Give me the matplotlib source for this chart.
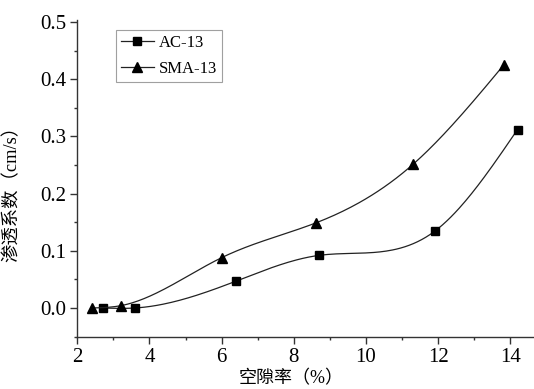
import numpy as np
import matplotlib
matplotlib.use("Agg")
import matplotlib.pyplot as plt
from matplotlib.ticker import MultipleLocator

plt.rcParams['font.family'] = ['Liberation Serif', 'Noto Sans CJK SC']
plt.rcParams['axes.unicode_minus'] = False

# values
ac_x = [2.7, 3.6, 6.4, 8.7, 11.9, 14.2]
ac_y = [0.0, 0.0, 0.047, 0.092, 0.134, 0.312]
sma_x = [2.42, 3.2, 6.0, 8.62, 11.3, 13.82]
sma_y = [0.0, 0.004, 0.088, 0.149, 0.251, 0.425]
labels = ["AC-13", "SMA-13"]


def natural_spline(x, y, n=200):
    x = np.asarray(x, float)
    y = np.asarray(y, float)
    k = len(x)
    h = np.diff(x)
    A = np.zeros((k, k))
    b = np.zeros(k)
    A[0, 0] = A[-1, -1] = 1.0
    for i in range(1, k - 1):
        A[i, i - 1] = h[i - 1]
        A[i, i] = 2 * (h[i - 1] + h[i])
        A[i, i + 1] = h[i]
        b[i] = 6 * ((y[i + 1] - y[i]) / h[i] - (y[i] - y[i - 1]) / h[i - 1])
    m = np.linalg.solve(A, b)
    xs = np.linspace(x[0], x[-1], n)
    idx = np.clip(np.searchsorted(x, xs) - 1, 0, k - 2)
    x0, x1 = x[idx], x[idx + 1]
    hh = x1 - x0
    t0, t1 = x1 - xs, xs - x0
    ys = (m[idx] * t0 ** 3 + m[idx + 1] * t1 ** 3) / (6 * hh) \
        + (y[idx] / hh - m[idx] * hh / 6) * t0 \
        + (y[idx + 1] / hh - m[idx + 1] * hh / 6) * t1
    return xs, ys


fig = plt.figure(figsize=(5.34, 3.89), dpi=100)
ax = fig.add_axes([0.1448, 0.1337, 0.8552, 0.8149])

for xv, yv, mk, ms, lab in [(ac_x, ac_y, 's', 5.5, labels[0]),
                            (sma_x, sma_y, '^', 6.5, labels[1])]:
    xs, ys = natural_spline(xv, yv)
    ax.plot(xs, ys, color='#222222', lw=0.9)
    ax.plot(xv, yv, ls='none', marker=mk, ms=ms, color='black')
    ax.plot([], [], color='#222222', lw=0.9, marker=mk, ms=ms,
            markerfacecolor='black', markeredgecolor='black', label=lab)

ax.set_xlim(2, 14.656)
ax.set_ylim(-0.0507, 0.5035)
ax.xaxis.set_major_locator(MultipleLocator(2))
ax.xaxis.set_minor_locator(MultipleLocator(1))
ax.yaxis.set_major_locator(MultipleLocator(0.1))
ax.yaxis.set_minor_locator(MultipleLocator(0.05))
ax.yaxis.set_major_formatter(matplotlib.ticker.FormatStrFormatter('%.1f'))

for s in ['top', 'right']:
    ax.spines[s].set_visible(False)
for s in ['left', 'bottom']:
    ax.spines[s].set_linewidth(1.0)
    ax.spines[s].set_color('#333333')

ax.tick_params(which='major', direction='out', length=5, width=1, labelsize=15,
               color='#333333', pad=3)
ax.tick_params(which='minor', direction='out', length=2.5, width=1, color='#333333')

ax.set_xlabel('空隙率（%）', fontsize=13)
ax.xaxis.set_label_coords(0.468, -0.103)
ax.set_ylabel('渗透系数（cm/s）', fontsize=13.2)
ax.yaxis.set_label_coords(-0.125, 0.467)

leg = ax.legend(loc='upper left', bbox_to_anchor=(115.7 / 534, 1 - 30 / 389),
                bbox_transform=fig.transFigure, fontsize=12, frameon=True,
                fancybox=False, borderaxespad=0, handlelength=2.0,
                handletextpad=0.3, borderpad=0.3, labelspacing=0.6)
leg.get_frame().set_edgecolor('#888888')
leg.get_frame().set_linewidth(0.8)

fig.savefig('out.png', dpi=100)
